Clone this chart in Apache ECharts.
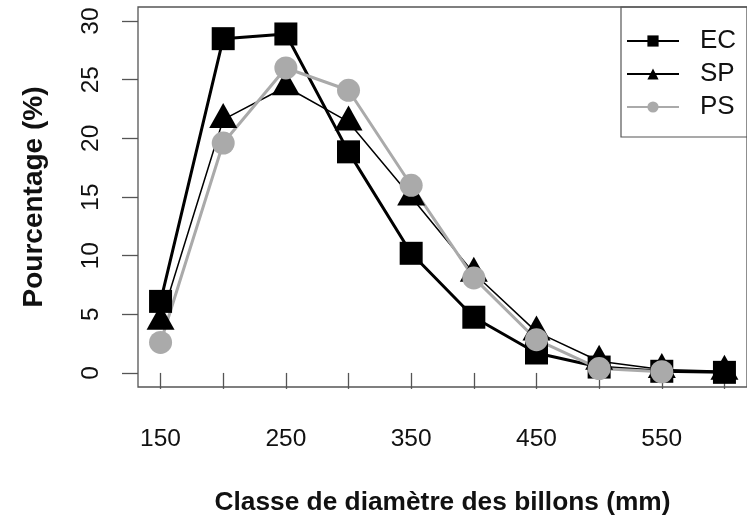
<!DOCTYPE html>
<html><head><meta charset="utf-8">
<script src="https://cdn.jsdelivr.net/npm/echarts@6/dist/echarts.min.js"></script>
<style>html,body{margin:0;padding:0;background:#fff}#c{width:747px;height:521px}</style>
</head><body><div id="c"></div>
<script>
const diameters = [150, 200, 250, 300, 350, 400, 450, 500, 550, 600];
const ecValues = [6.1, 28.5, 28.9, 18.85, 10.2, 4.75, 1.7, 0.5, 0.14, 0.05];
const spValues = [4.4, 21.6, 24.4, 21.4, 15.0, 8.5, 3.5, 1.0, 0.3, 0.15];
const psValues = [2.6, 19.6, 26.0, 24.1, 16.0, 8.1, 2.83, 0.37, 0.1, null];
const seriesNames = ['EC', 'SP', 'PS'];
const xTicks = [150, 200, 250, 300, 350, 400, 450, 500, 550, 600];
const xTickLabels = [150, 250, 350, 450, 550];
const yTicks = [0, 5, 10, 15, 20, 25, 30];
const xTitle = 'Classe de diamètre des billons (mm)';
const yTitle = 'Pourcentage (%)';

const FONT = '"Liberation Sans", Arial, sans-serif';
function pairs(vals) {
  return diameters.map((d, i) => [d, vals[i]]).filter(p => p[1] !== null);
}
const chart = echarts.init(document.getElementById('c'), null, {renderer: 'canvas'});
chart.setOption({
  animation: false,
  backgroundColor: '#fff',
  textStyle: {fontFamily: FONT},
  grid: {left: 138, top: 7, right: -5, bottom: 134, show: true, borderColor: '#555', borderWidth: 1.3, backgroundColor: 'transparent'},
  xAxis: {
    type: 'value', min: 132, max: 618,
    axisLine: {show: false},
    splitLine: {show: false},
    axisTick: {show: true, length: 16, customValues: xTicks, lineStyle: {color: '#555', width: 1.3}},
    axisLabel: {customValues: xTickLabels, fontSize: 24.5, color: '#111', margin: 40, fontFamily: FONT},
    name: xTitle, nameLocation: 'middle', nameGap: 103,
    nameTextStyle: {fontSize: 26.3, fontWeight: 'bold', color: '#111', fontFamily: FONT}
  },
  yAxis: {
    type: 'value', min: -1.2, max: 31.2,
    axisLine: {show: false},
    splitLine: {show: false},
    axisTick: {show: true, length: 16, customValues: yTicks, lineStyle: {color: '#555', width: 1.3}},
    axisLabel: {customValues: yTicks, fontSize: 24.5, color: '#111', margin: 34, rotate: 90, fontFamily: FONT},
    name: yTitle, nameLocation: 'middle', nameGap: 90, nameRotate: 90,
    nameTextStyle: {fontSize: 28, fontWeight: 'bold', color: '#111', fontFamily: FONT}
  },
  legend: {
    orient: 'vertical', left: 621, top: 7,
    data: seriesNames,
    itemWidth: 52, itemHeight: 14, itemGap: 7,
    padding: [21, 20, 17, 5],
    borderColor: '#555', borderWidth: 1.2,
    textStyle: {fontSize: 26, lineHeight: 25, color: '#111', fontFamily: FONT, padding: [0, 0, 0, 16]}
  },
  series: [
    {name: seriesNames[0], type: 'line', data: pairs(ecValues), symbol: 'rect', symbolSize: 23,
     lineStyle: {color: '#000', width: 3}, itemStyle: {color: '#000'}},
    {name: seriesNames[1], type: 'line', data: pairs(spValues), symbol: 'triangle', symbolSize: [28, 25], symbolOffset: [0, -4],
     lineStyle: {color: '#000', width: 1.5}, itemStyle: {color: '#000'}},
    {name: seriesNames[2], type: 'line', data: pairs(psValues), symbol: 'circle', symbolSize: 23,
     lineStyle: {color: '#aaaaaa', width: 3}, itemStyle: {color: '#aaaaaa'}}
  ]
});
</script></body></html>
